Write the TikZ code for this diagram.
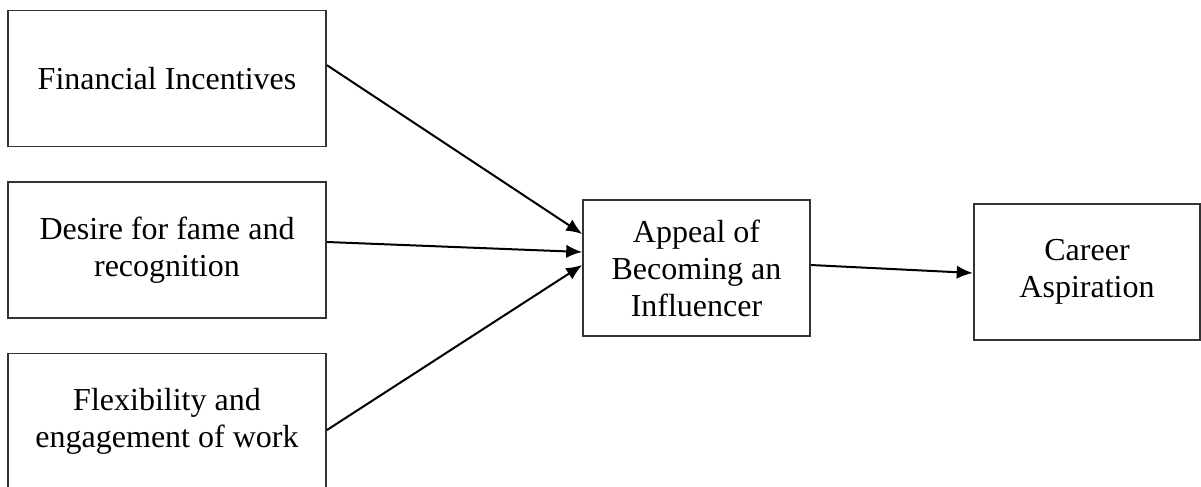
\documentclass[tikz,border=0pt]{standalone}
\usepackage{fontspec}
\setmainfont{Liberation Serif}
\usetikzlibrary{arrows.meta,positioning,calc}
\tikzset{
  factorbox/.style={draw=black!80, line width=1.4pt, minimum width=238.5pt, minimum height=102pt, inner sep=2pt, align=center, font=\fontsize{24}{27.75}\selectfont},
  midbox/.style={draw=black!80, line width=1.4pt, minimum width=170pt, minimum height=102pt, inner sep=2pt, align=center, font=\fontsize{24}{27.75}\selectfont},
  arr/.style={-{Latex[length=12pt,width=10pt]}, line width=1.5pt, draw=black}
}
\begin{document}
\begin{tikzpicture}[x=0.75pt,y=-0.75pt]
\useasboundingbox (0,0) rectangle (1201,486);
\node[factorbox] (fin) at (167,78.5) {Financial Incentives};
\node[factorbox] (fame) at (167,250) {Desire for fame and\\recognition};
\node[factorbox] (flex) at (167,421.5) {Flexibility and\\engagement of work};
\node[midbox] (appeal) at (696.5,268) {Appeal of\\Becoming an\\Influencer};
\node[midbox] (career) at (1087,272) {Career\\Aspiration};
\draw[arr] ([yshift=10pt]fin.east) -- ([yshift=25.5pt]appeal.west);
\draw[arr] ([yshift=6pt]fame.east) -- ([yshift=12pt]appeal.west);
\draw[arr] ([yshift=-6.4pt]flex.east) -- ([yshift=2.25pt]appeal.west);
\draw[arr] ([yshift=2.25pt]appeal.east) -- ([yshift=-0.75pt]career.west);
\end{tikzpicture}
\end{document}
